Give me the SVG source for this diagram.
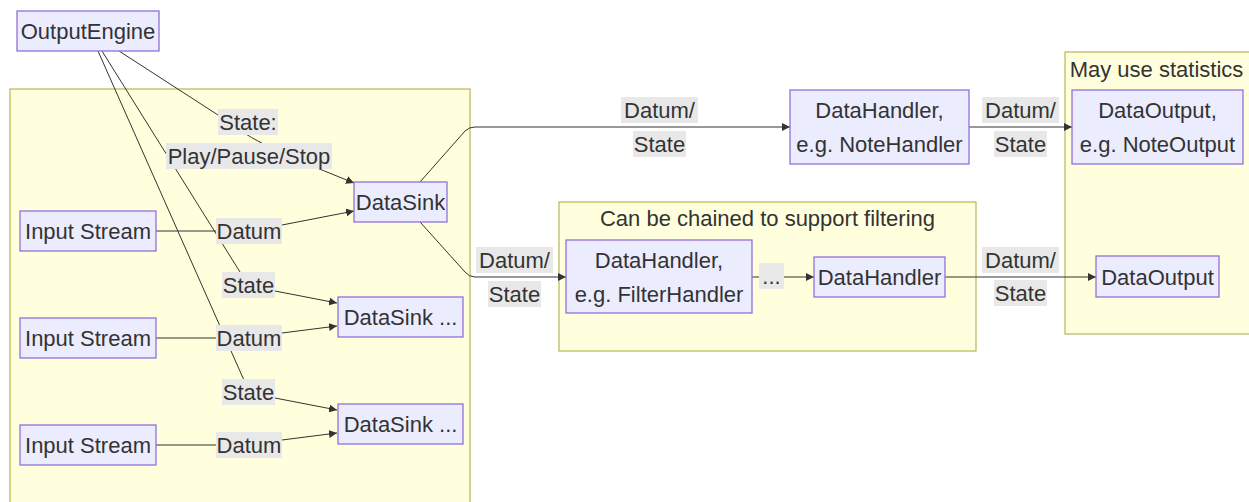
<svg xmlns="http://www.w3.org/2000/svg" width="1249" height="502" viewBox="0 0 1249 502">
<defs>
<marker id="arr" viewBox="0 0 10 10" refX="10" refY="5" markerWidth="8" markerHeight="8" markerUnits="userSpaceOnUse" orient="auto">
<path d="M0,0 L10,5 L0,10 z" fill="#333"/>
</marker>
<style>
.cl{fill:#ffffde;stroke:#aaaa33;stroke-width:1}
.nd{fill:#ececff;stroke:#9370db;stroke-width:1.3}
.t{font-family:"Liberation Sans",Arial,sans-serif;font-size:22px;fill:#333;text-anchor:middle}
.e{fill:none;stroke:#333;stroke-width:1}
.lb{fill:#e8e8e8}
</style>
</defs>
<rect width="1249" height="502" fill="#ffffff"/>
<g id="clusters">
<rect class="cl" x="10" y="89" width="460" height="425"/>
<rect class="cl" x="559" y="202" width="417" height="149"/>
<text class="t" x="767.5" y="226">Can be chained to support filtering</text>
<rect class="cl" x="1065" y="52" width="195" height="282"/>
<text class="t" x="1156.5" y="77">May use statistics</text>
</g>
<g id="connectors">
<path class="e" d="M119,51 L218,115 Q249,139 290,157 L354,183" marker-end="url(#arr)"/>
<path class="e" d="M102,51 L240,272 Q248,285 275,291 L337,303" marker-end="url(#arr)"/>
<path class="e" d="M98,51 L243,378 Q248,392 275,398 L337,410" marker-end="url(#arr)"/>
<path class="e" d="M156,231 L230,231 Q249,231 282,225 L354,211" marker-end="url(#arr)"/>
<path class="e" d="M156,338 L230,338 Q249,338 282,333 L337,326" marker-end="url(#arr)"/>
<path class="e" d="M156,445 L230,445 Q249,445 282,440 L337,433" marker-end="url(#arr)"/>
<path class="e" d="M420,182 L465,131 Q469,127 475,127 L790,127" marker-end="url(#arr)"/>
<path class="e" d="M420,222 L465,272 Q469,277 475,277 L566,277" marker-end="url(#arr)"/>
<path class="e" d="M752,277 L814,277" marker-end="url(#arr)"/>
<path class="e" d="M969,127 L1072,127" marker-end="url(#arr)"/>
<path class="e" d="M945,277 L1096,277" marker-end="url(#arr)"/>
</g>
<g id="edge-labels">
<rect class="lb" x="218" y="109" width="60" height="26"/>
<text class="t" x="248" y="130">State:</text>
<rect class="lb" x="166" y="143" width="166" height="26"/>
<text class="t" x="249" y="164">Play/Pause/Stop</text>
<rect class="lb" x="216" y="218" width="66" height="26"/>
<text class="t" x="249" y="239">Datum</text>
<rect class="lb" x="216" y="325" width="66" height="26"/>
<text class="t" x="249" y="346">Datum</text>
<rect class="lb" x="216" y="432" width="66" height="26"/>
<text class="t" x="249" y="453">Datum</text>
<rect class="lb" x="222" y="272" width="53" height="26"/>
<text class="t" x="248.5" y="293">State</text>
<rect class="lb" x="222" y="379" width="53" height="26"/>
<text class="t" x="248.5" y="400">State</text>
<rect class="lb" x="621" y="97" width="77" height="26"/>
<text class="t" x="659.5" y="118">Datum/</text>
<rect class="lb" x="633" y="131" width="53" height="26"/>
<text class="t" x="659.5" y="152">State</text>
<rect class="lb" x="476" y="247" width="77" height="26"/>
<text class="t" x="514.5" y="268">Datum/</text>
<rect class="lb" x="488" y="281" width="53" height="26"/>
<text class="t" x="514.5" y="302">State</text>
<rect class="lb" x="759" y="263" width="25" height="26"/>
<text class="t" x="771.5" y="284">...</text>
<rect class="lb" x="982" y="97" width="77" height="26"/>
<text class="t" x="1020.5" y="118">Datum/</text>
<rect class="lb" x="994" y="131" width="53" height="26"/>
<text class="t" x="1020.5" y="152">State</text>
<rect class="lb" x="982" y="247" width="77" height="26"/>
<text class="t" x="1020.5" y="268">Datum/</text>
<rect class="lb" x="994" y="280" width="53" height="26"/>
<text class="t" x="1020.5" y="301">State</text>
</g>
<g id="OutputEngine">
<rect class="nd" x="17" y="11" width="142" height="40"/>
<text class="t" x="88" y="39">OutputEngine</text>
</g>
<g id="InputStream1">
<rect class="nd" x="20" y="211" width="136" height="40"/>
<text class="t" x="88" y="239">Input Stream</text>
</g>
<g id="InputStream2">
<rect class="nd" x="20" y="318" width="136" height="40"/>
<text class="t" x="88" y="346">Input Stream</text>
</g>
<g id="InputStream3">
<rect class="nd" x="20" y="425" width="136" height="40"/>
<text class="t" x="88" y="453">Input Stream</text>
</g>
<g id="DataSink">
<rect class="nd" x="354" y="182" width="93" height="40"/>
<text class="t" x="400.5" y="210">DataSink</text>
</g>
<g id="DataSink2">
<rect class="nd" x="338" y="297" width="125" height="40"/>
<text class="t" x="400.5" y="325">DataSink ...</text>
</g>
<g id="DataSink3">
<rect class="nd" x="338" y="404" width="125" height="40"/>
<text class="t" x="400.5" y="432">DataSink ...</text>
</g>
<g id="NoteHandler">
<rect class="nd" x="790" y="90" width="179" height="74"/>
<text class="t" x="879.5" y="118">DataHandler,</text>
<text class="t" x="879.5" y="152">e.g. NoteHandler</text>
</g>
<g id="FilterHandler">
<rect class="nd" x="566" y="240" width="186" height="73"/>
<text class="t" x="659" y="268">DataHandler,</text>
<text class="t" x="659" y="302">e.g. FilterHandler</text>
</g>
<g id="DataHandler">
<rect class="nd" x="814" y="257" width="131" height="40"/>
<text class="t" x="879.5" y="285">DataHandler</text>
</g>
<g id="NoteOutput">
<rect class="nd" x="1072" y="90" width="171" height="74"/>
<text class="t" x="1157.5" y="118">DataOutput,</text>
<text class="t" x="1157.5" y="152">e.g. NoteOutput</text>
</g>
<g id="DataOutput">
<rect class="nd" x="1096" y="256" width="123" height="41"/>
<text class="t" x="1157.5" y="285">DataOutput</text>
</g>
</svg>
